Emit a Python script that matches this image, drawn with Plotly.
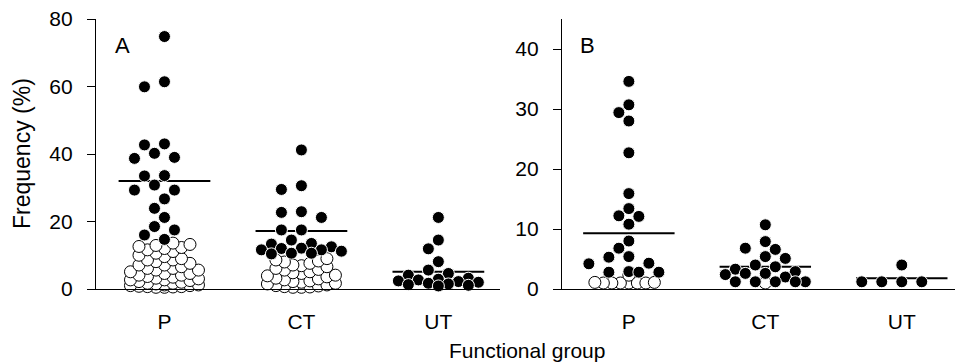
import math
import plotly.graph_objects as go

# ---- data -------------------------------------------------------------
groups = ["P", "CT", "UT"]

# Panel A (%), filled = black dots, open = white dots
a_p_filled = [74.8, 61.4, 59.9, 43.0, 42.7, 40.2, 39.0, 38.7, 33.6, 33.5,
              30.8, 29.3, 29.3, 26.7, 23.9, 21.2, 18.5, 17.5, 16.0, 14.7]
a_p_open = [13.6, 13.2, 12.9, 12.6, 12.3, 12.0, 11.6, 11.1, 10.6, 10.0,
            9.6, 9.0, 8.6, 8.6, 8.1, 7.6, 7.1, 7.1, 6.6, 6.1, 6.1, 5.6,
            5.6, 5.1, 4.6, 4.6, 4.1, 4.1, 3.7, 3.5, 3.2, 3.0, 2.7, 2.7,
            2.5, 2.2, 2.0, 1.7, 1.7, 1.5, 1.2, 1.2, 1.0, 1.0, 0.8, 0.7,
            0.7, 0.6, 0.5, 0.5]
a_ct_filled = [41.2, 30.6, 29.5, 22.9, 22.7, 21.2, 17.5, 17.5, 14.5, 13.5,
               13.3, 12.5, 12.1, 12.0, 11.6, 11.6, 11.2, 10.6, 10.6, 10.4]
a_ct_open = [9.0, 8.6, 8.3, 8.0, 7.6, 7.1, 6.9, 6.6, 6.1, 5.8, 5.6, 5.1,
             4.8, 4.6, 4.1, 3.9, 3.6, 3.2, 3.0, 2.7, 2.4, 2.2, 2.0, 1.7,
             1.5, 1.2, 1.0, 0.9, 0.7, 0.6, 0.5, 0.5]
a_ut_filled = [21.2, 14.5, 11.9, 8.1, 5.6, 4.6, 4.1, 3.2, 2.9, 2.7, 2.4,
               2.2, 2.0, 1.7, 1.5, 1.3, 1.1, 0.9]
a_ut_open = []
a_means = [32.0, 17.2, 5.1]

# Panel B (%)
b_p_filled = [34.6, 30.7, 29.4, 28.0, 22.7, 15.9, 13.4, 12.2, 12.1, 10.8,
              8.0, 6.8, 5.4, 5.3, 4.3, 4.2, 2.9, 2.8, 2.8, 2.8]
b_p_open = [2.3, 1.1, 1.1, 1.0, 1.0, 1.0, 1.0, 1.0, 1.0]
b_ct_filled = [10.7, 7.9, 6.8, 6.6, 5.4, 5.1, 4.0, 3.7, 3.3, 2.9, 2.6, 2.6,
               2.4, 2.0, 1.2, 1.2, 1.2, 1.2, 1.2]
b_ct_open = [1.0]
b_ut_filled = [4.0, 1.2, 1.2, 1.2, 1.2]
b_ut_open = []
b_means = [9.3, 3.7, 1.8]

y_ticks_a = [0, 20, 40, 60, 80]
y_ticks_b = [0, 10, 20, 30, 40]

# ---- geometry -----------------------------------------------------------
W, H = 961, 364
ML, MR, MT, MB = 96, 6, 19, 75
PW, PH = W - ML - MR, H - MT - MB
xa_dom = [0.0, 404 / PW]
xb_dom = [466 / PW, 1.0]
xa_rng = [0.5, 3.45]
xb_rng = [0.51, 3.39]
ya_rng = [0, 80]
yb_rng = [0, 45]


def ppu(dom, rng, full):
    return (dom[1] - dom[0]) * full / (rng[1] - rng[0])


def swarm(vals, px_x, px_y, step, dmin, half):
    """Beeswarm offsets (data units) so dots sit side by side."""
    cands = [0.0]
    k = 1
    while k * step <= half + 1e-9:
        cands += [-k * step, k * step]
        k += 1
    placed, offs = [], []
    for v in vals:
        y = v * px_y
        best, bestd, chosen = 0.0, -1.0, None
        for c in cands:
            md = min((math.hypot(c - px, y - py) for px, py in placed),
                     default=math.inf)
            if md >= dmin:
                chosen = c
                break
            if md > bestd:
                bestd, best = md, c
        if chosen is None:
            chosen = best
        placed.append((chosen, y))
        offs.append(chosen / px_x)
    return offs


fig = go.Figure()

panels = [
    dict(xref="x", yref="y", dom=xa_dom, rng=xa_rng, yr=ya_rng,
         filled=[a_p_filled, a_ct_filled, a_ut_filled],
         opened=[a_p_open, a_ct_open, a_ut_open], means=a_means),
    dict(xref="x2", yref="y2", dom=xb_dom, rng=xb_rng, yr=yb_rng,
         filled=[b_p_filled, b_ct_filled, b_ut_filled],
         opened=[b_p_open, b_ct_open, b_ut_open], means=b_means),
]

HALF_LINE = 0.335
for p in panels:
    pxx = ppu(p["dom"], p["rng"], PW)
    pxy = PH / (p["yr"][1] - p["yr"][0])
    # mean lines (drawn beneath the dots)
    for i, m in enumerate(p["means"]):
        c = i + 1
        fig.add_trace(go.Scatter(
            x=[c - HALF_LINE, c + HALF_LINE], y=[m, m], mode="lines",
            line=dict(color="black", width=2), xaxis=p["xref"],
            yaxis=p["yref"], showlegend=False, hoverinfo="skip"))
    for i in range(3):
        c = i + 1
        ov = sorted(p["opened"][i])
        if ov:
            offs = swarm(ov, pxx, pxy, 8.5, 7.5, 42)
            fig.add_trace(go.Scatter(
                x=[c + o for o in offs], y=ov, mode="markers",
                marker=dict(size=12, color="white",
                            line=dict(color="black", width=1)),
                xaxis=p["xref"], yaxis=p["yref"], cliponaxis=False,
                showlegend=False))
        fv = sorted(p["filled"][i], reverse=True)
        offs = swarm(fv, pxx, pxy, 10, 12, 42)
        fig.add_trace(go.Scatter(
            x=[c + o for o in offs], y=fv, mode="markers",
            marker=dict(size=12, color="black",
                        line=dict(color="white", width=1)),
            xaxis=p["xref"], yaxis=p["yref"], cliponaxis=False,
            showlegend=False))

FONT = "Liberation Sans, Arial, sans-serif"
axis_common = dict(showgrid=False, zeroline=False, showline=True,
                   linecolor="black", linewidth=1.3,
                   tickfont=dict(family=FONT, size=21, color="black"))

fig.update_layout(
    width=W, height=H,
    margin=dict(l=ML, r=MR, t=MT, b=MB),
    paper_bgcolor="white", plot_bgcolor="white",
    xaxis=dict(domain=xa_dom, range=xa_rng, anchor="y",
               tickvals=[1, 2, 3], ticktext=groups, ticks="",
               ticklabelstandoff=14, **axis_common),
    xaxis2=dict(domain=xb_dom, range=xb_rng, anchor="y2",
                tickvals=[1, 2, 3], ticktext=groups, ticks="",
                ticklabelstandoff=14, **axis_common),
    yaxis=dict(range=ya_rng, anchor="x", tickvals=y_ticks_a, ticks="outside",
               ticklen=8, tickwidth=1.3, tickcolor="black",
               ticklabelstandoff=10, **axis_common),
    yaxis2=dict(range=yb_rng, anchor="x2", tickvals=y_ticks_b,
                ticks="outside", ticklen=8, tickwidth=1.3, tickcolor="black",
                ticklabelstandoff=10, **axis_common),
)

fig.add_annotation(text="A", xref="paper", yref="paper",
                   x=(113 - ML) / PW, y=1 - (45 - MT) / PH,
                   xanchor="left", yanchor="middle", showarrow=False,
                   font=dict(family=FONT, size=22, color="black"))
fig.add_annotation(text="B", xref="paper", yref="paper",
                   x=(578 - ML) / PW, y=1 - (45 - MT) / PH,
                   xanchor="left", yanchor="middle", showarrow=False,
                   font=dict(family=FONT, size=22, color="black"))
fig.add_annotation(text="Functional group", xref="paper", yref="paper",
                   x=(527 - ML) / PW, y=1 - (350 - MT) / PH,
                   xanchor="center", yanchor="middle", showarrow=False,
                   font=dict(family=FONT, size=21, color="black"))
fig.add_annotation(text="Frequency (%)", xref="paper", yref="paper",
                   x=(22 - ML) / PW, y=1 - (154 - MT) / PH, textangle=-90,
                   xanchor="center", yanchor="middle", showarrow=False,
                   font=dict(family=FONT, size=23, color="black"))

fig.write_html("out.html")
